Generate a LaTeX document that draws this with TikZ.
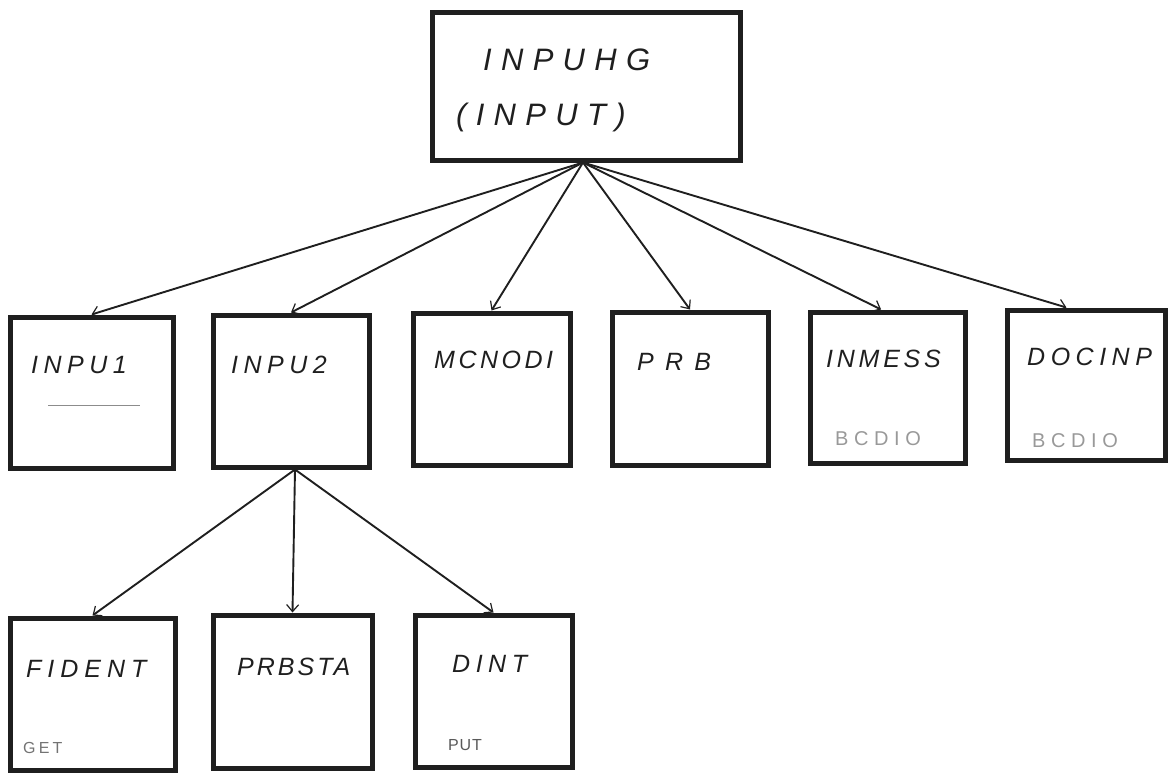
\documentclass[tikz,border=0pt]{standalone}
\usepackage{fontspec}
\setmainfont{Liberation Sans}
\usetikzlibrary{arrows.meta,calc}

\tikzset{
  modbox/.style={draw=black!88, line width=5pt, rectangle, inner sep=0pt},
  toplabel/.style={anchor=base west, inner sep=0pt, text=black!88,
    font=\fontsize{31}{36}\selectfont\itshape\addfontfeature{LetterSpace=30}},
  modlabel/.style={anchor=base west, inner sep=0pt, text=black!88,
    font=\fontsize{25}{30}\selectfont\itshape\addfontfeature{LetterSpace=22}},
  note/.style={anchor=base west, inner sep=0pt, text=black!40,
    font=\fontsize{20}{24}\selectfont\addfontfeature{LetterSpace=28}},
  smallnote/.style={anchor=base west, inner sep=0pt, text=black!55,
    font=\fontsize{16}{20}\selectfont\addfontfeature{LetterSpace=20}},
  call/.style={draw=black!88, line width=1.9pt,
    -{Straight Barb[length=7pt,width=12pt,line width=1.2pt]}}
}

\begin{document}
\begin{tikzpicture}[x=1pt,y=-1pt]
  \useasboundingbox (0,0) rectangle (1171,774);

  % driver routine
  \node[modbox, minimum width=308pt, minimum height=148pt] (top) at (586,86) {};
  \node[toplabel] (topname) at (483,70) {INPUHG};
  \node[toplabel] (topalias) at (456,125) {(INPUT)};

  % second level
  \node[modbox, minimum width=163pt, minimum height=151pt] (inpu1) at (91.5,392.5) {};
  \node[modbox, minimum width=156pt, minimum height=152pt] (inpu2) at (291,391) {};
  \node[modbox, minimum width=157pt, minimum height=152pt] (mcnodi) at (491.5,389) {};
  \node[modbox, minimum width=156pt, minimum height=153pt] (prb) at (690,388.5) {};
  \node[modbox, minimum width=155pt, minimum height=151pt] (inmess) at (887.5,387.5) {};
  \node[modbox, minimum width=158pt, minimum height=150pt] (docinp) at (1086,385) {};

  \node[modlabel] (inpu1name) at (31,373) {INPU1};
  \node[modlabel] (inpu2name) at (231,373) {INPU2};
  \node[modlabel, font=\fontsize{25}{30}\selectfont\itshape\addfontfeature{LetterSpace=14}] (mcnodiname) at (434,368) {MCNODI};
  \node[modlabel, font=\fontsize{25}{30}\selectfont\itshape\addfontfeature{LetterSpace=45}] (prbname) at (637,370) {PRB};
  \node[modlabel, font=\fontsize{25}{30}\selectfont\itshape\addfontfeature{LetterSpace=15}] (inmessname) at (826,367) {INMESS};
  \node[modlabel] (docinpname) at (1027,365) {DOCINP};

  \coordinate (ulstart) at (48,405);
  \coordinate (ulend) at (140,405);
  \draw[black!45, line width=1pt] (ulstart) -- (ulend);

  \node[note] (inmessio) at (835,445) {BCDIO};
  \node[note] (docinpio) at (1032,447) {BCDIO};

  % third level
  \node[modbox, minimum width=165pt, minimum height=152pt] (fident) at (92.5,694) {};
  \node[modbox, minimum width=159pt, minimum height=153pt] (prbsta) at (292.5,691.5) {};
  \node[modbox, minimum width=157pt, minimum height=152pt] (dint) at (493.5,691) {};

  \node[modlabel, font=\fontsize{25}{30}\selectfont\itshape\addfontfeature{LetterSpace=24}] (fidentname) at (26,677) {FIDENT};
  \node[modlabel, font=\fontsize{25}{30}\selectfont\itshape\addfontfeature{LetterSpace=12}] (prbstaname) at (237,675) {PRBSTA};
  \node[modlabel] (dintname) at (452,672) {DINT};

  \node[smallnote] (fidentio) at (23,753) {GET};
  \node[smallnote, text=black!65, font=\fontsize{16}{20}\selectfont\addfontfeature{LetterSpace=5}] (dintio) at (448,750) {PUT};

  % calls
  \coordinate (fan) at ($(top.south)+(-3,0)$);
  \draw[call] (fan) -- (inpu1.north);
  \draw[call] (fan) -- (inpu2.north);
  \draw[call] (fan) -- (mcnodi.north);
  \draw[call] (fan) -- (prb.north);
  \draw[call] (fan) -- ($(inmess.north west)!0.46!(inmess.north east)$);
  \draw[call] (fan) -- ($(docinp.north west)!0.38!(docinp.north east)$);

  \coordinate (fan2) at ($(inpu2.south)+(4,0)$);
  \draw[call] (fan2) -- (fident.north);
  \draw[call] (fan2) -- (prbsta.north);
  \draw[call] (fan2) -- (dint.north);
\end{tikzpicture}
\end{document}
